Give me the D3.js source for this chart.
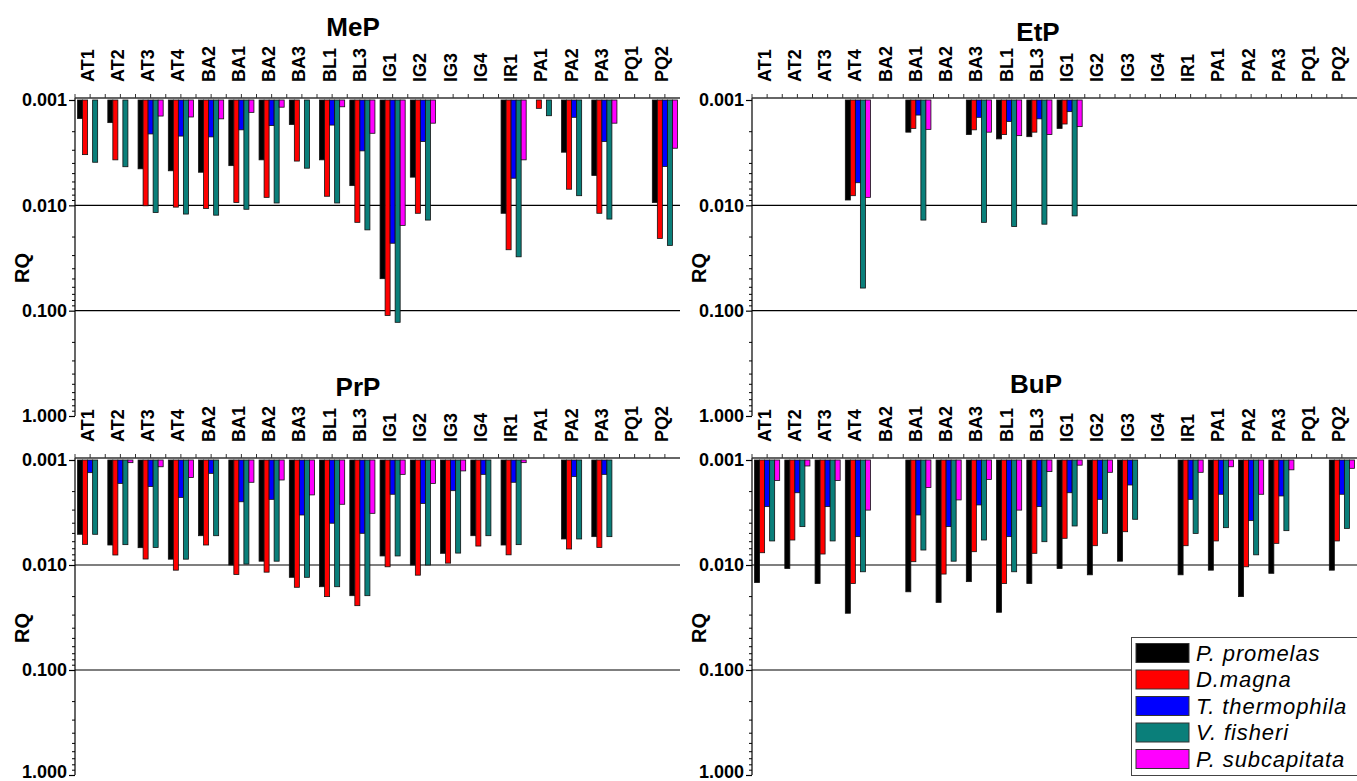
<!DOCTYPE html>
<html>
<head>
<meta charset="utf-8">
<script src="https://cdn.jsdelivr.net/npm/d3@7"></script>
<style>
  html, body { margin: 0; padding: 0; background: #fff; }
  svg { display: block; }
  text { font-family: Arial, "Liberation Sans", sans-serif; fill: #000; }
</style>
</head>
<body>
<svg id="chart" width="1357" height="781"></svg>
<script>
// Sampling sites (x categories), shared by all four panels
const categories = ["AT1","AT2","AT3","AT4","BA2","BA1","BA2","BA3","BL1","BL3",
                    "IG1","IG2","IG3","IG4","IR1","PA1","PA2","PA3","PQ1","PQ2"];

// Test organisms (bar series) and their fills
const species = ["P. promelas", "D.magna", "T. thermophila", "V. fisheri", "P. subcapitata"];
const speciesColors = ["#000000", "#ff0000", "#0000ff", "#0a7f7a", "#ff00ff"];

// Risk quotient axis ticks
const rqTicks = [0.001, 0.01, 0.1, 1];

// MeP risk quotients
const mepPromelas    = [0.0015, 0.00164, 0.0045, 0.0047, 0.00485, 0.0042, 0.0037, 0.00171, 0.0037, 0.0065, 0.0497, 0.0054, null, null, 0.0119, null, 0.00313, 0.0052, null, 0.0094];
const mepMagna       = [0.0033, 0.0037, 0.0101, 0.0104, 0.0107, 0.0094, 0.0084, 0.0038, 0.0082, 0.0145, 0.111, 0.0119, null, null, 0.0264, 0.0012, 0.00703, 0.0119, null, 0.0206];
const mepThermophila = [null, null, 0.0021, 0.0022, 0.00224, 0.00192, 0.00175, null, 0.00173, 0.00304, 0.0229, 0.00248, null, null, 0.00553, null, 0.00146, 0.00248, null, 0.00428];
const mepFisheri     = [0.0039, 0.0043, 0.0117, 0.0121, 0.0124, 0.0109, 0.0095, 0.00444, 0.0095, 0.0171, 0.129, 0.0138, null, null, 0.0308, 0.00141, 0.0081, 0.0135, null, 0.024];
const mepSubcapitata = [null, null, 0.00142, 0.00145, 0.00151, 0.00131, 0.00117, null, 0.00116, 0.00207, 0.0155, 0.00166, null, null, 0.0037, null, null, 0.00166, null, 0.00287];

// EtP risk quotients
const etpPromelas    = [null, null, null, 0.0089, null, 0.00202, null, 0.00213, 0.00234, 0.00223, 0.00186, null, null, null, null, null, null, null, null, null];
const etpMagna       = [null, null, null, 0.0081, null, 0.00186, null, 0.00192, 0.00213, 0.00202, 0.00169, null, null, null, null, null, null, null, null, null];
const etpThermophila = [null, null, null, 0.0061, null, 0.00139, null, 0.00146, 0.0016, 0.00151, 0.00129, null, null, null, null, null, null, null, null, null];
const etpFisheri     = [null, null, null, 0.061, null, 0.0138, null, 0.0145, 0.0159, 0.0151, 0.0126, null, null, null, null, null, null, null, null, null];
const etpSubcapitata = [null, null, null, 0.0084, null, 0.0019, null, 0.00202, 0.00218, 0.00213, 0.00179, null, null, null, null, null, null, null, null, null];

// PrP risk quotients
const prpPromelas    = [0.0051, 0.00645, 0.00684, 0.0088, 0.00526, 0.010, 0.0092, 0.0131, 0.0161, 0.0196, 0.0082, 0.010, 0.00774, 0.00526, 0.00645, null, 0.00565, 0.00537, null, null];
const prpMagna       = [0.00636, 0.00803, 0.00877, 0.0112, 0.00645, 0.0123, 0.0117, 0.0163, 0.020, 0.0244, 0.0104, 0.0125, 0.0096, 0.0066, 0.008, null, 0.00704, 0.0068, null, null];
const prpThermophila = [0.00132, 0.00167, 0.00179, 0.00227, 0.00134, 0.0025, 0.00237, 0.00334, 0.004, 0.00499, 0.00212, 0.00259, 0.00196, 0.00137, 0.00163, null, 0.00144, 0.00137, null, null];
const prpFisheri     = [0.0051, 0.0064, 0.0068, 0.0088, 0.00526, 0.0098, 0.0092, 0.0131, 0.0161, 0.0196, 0.0082, 0.010, 0.0077, 0.00526, 0.0064, null, 0.00565, 0.00537, null, null];
const prpSubcapitata = [null, 0.00106, 0.00116, 0.00147, null, 0.00163, 0.00155, 0.00215, 0.00264, 0.00322, 0.00137, 0.00167, 0.00127, null, 0.00106, null, null, null, null, null];

// BuP risk quotients
const bupPromelas    = [0.0147, 0.0108, 0.015, 0.0288, null, 0.018, 0.0227, 0.0144, 0.0282, 0.015, 0.0108, 0.0124, 0.0092, null, 0.0124, 0.0112, 0.020, 0.012, null, 0.0112];
const bupMagna       = [0.00764, 0.00578, 0.00786, 0.015, null, 0.0093, 0.0122, 0.00747, 0.015, 0.00774, 0.00557, 0.00655, 0.00482, null, 0.00655, 0.0059, 0.0104, 0.00622, null, 0.0059];
const bupThermophila = [0.00278, 0.00205, 0.00278, 0.00537, null, 0.00334, 0.00431, 0.00268, 0.00537, 0.00278, 0.00205, 0.00237, 0.00173, null, 0.00237, 0.00212, 0.00378, 0.0022, null, 0.00212];
const bupFisheri     = [0.0059, 0.00431, 0.0059, 0.0116, null, 0.0072, 0.0092, 0.00578, 0.0116, 0.006, 0.00425, 0.00499, 0.00367, null, 0.005, 0.00441, 0.008, 0.00471, null, 0.00448];
const bupSubcapitata = [0.00157, 0.00114, 0.00157, 0.003, null, 0.00183, 0.0024, 0.00153, 0.003, 0.00129, 0.00112, 0.00131, null, null, 0.00131, 0.00116, 0.00212, 0.00124, null, 0.0012];

// Panel layout: plot area edges and title placement
const panels = [
  { title: "MeP", series: [mepPromelas, mepMagna, mepThermophila, mepFisheri, mepSubcapitata],
    left: 75,  right: 680,  top: 100, bottom: 416, titleX: 353,  titleY: 36 },
  { title: "EtP", series: [etpPromelas, etpMagna, etpThermophila, etpFisheri, etpSubcapitata],
    left: 752, right: 1357, top: 100, bottom: 416, titleX: 1038, titleY: 41 },
  { title: "PrP", series: [prpPromelas, prpMagna, prpThermophila, prpFisheri, prpSubcapitata],
    left: 75,  right: 680,  top: 460, bottom: 775, titleX: 358,  titleY: 396 },
  { title: "BuP", series: [bupPromelas, bupMagna, bupThermophila, bupFisheri, bupSubcapitata],
    left: 752, right: 1357, top: 460, bottom: 775, titleX: 1036, titleY: 393 }
];

const svg = d3.select("#chart");

panels.forEach(p => {
  const g = svg.append("g");

  const x = d3.scaleBand()
    .domain(d3.range(categories.length))
    .range([p.left, p.right])
    .paddingInner(0.17)
    .paddingOuter(0.085);
  const step = x.step();

  const xs = d3.scaleBand()
    .domain(d3.range(species.length))
    .range([0, x.bandwidth()]);

  // reversed log axis: 0.001 at the top, 1 at the bottom
  const y = d3.scaleLog().domain([0.001, 1]).range([p.top, p.bottom]);

  // horizontal reference lines at 0.01 and 0.1
  g.selectAll("line.grid")
    .data([0.01, 0.1])
    .join("line")
    .attr("x1", p.left).attr("x2", p.right)
    .attr("y1", d => y(d)).attr("y2", d => y(d))
    .attr("stroke", "#000").attr("stroke-width", 1.2);

  // bars hang down from the 0.001 baseline
  p.series.forEach((vals, s) => {
    g.selectAll(null)
      .data(vals.map((v, i) => ({ v, i })).filter(d => d.v != null))
      .join("rect")
      .attr("x", d => x(d.i) + xs(s))
      .attr("y", y(0.001))
      .attr("width", xs.bandwidth())
      .attr("height", d => y(d.v) - y(0.001))
      .attr("fill", speciesColors[s])
      .attr("stroke", "#111")
      .attr("stroke-width", 0.8);
  });

  // left RQ axis with log minor ticks
  const yAxis = d3.axisLeft(y)
    .tickValues(rqTicks)
    .tickFormat(d3.format(".3f"))
    .tickSize(6)
    .tickPadding(2);
  const ag = g.append("g")
    .attr("transform", `translate(${p.left},0)`)
    .call(yAxis);
  ag.select(".domain").attr("stroke", "#000").attr("stroke-width", 1.2)
    .attr("d", `M0,${p.top - 2}V${p.bottom}`);
  ag.selectAll(".tick line").attr("stroke", "#000").attr("stroke-width", 1.2);
  ag.selectAll(".tick text")
    .attr("font-size", 18).attr("font-weight", "bold")
    .attr("font-family", "Arial, 'Liberation Sans', sans-serif")
    .attr("dy", d => d === 1 && p.bottom > 700 ? "0.12em" : "0.32em");

  const minor = [];
  [0.001, 0.01, 0.1].forEach(d => { for (let k = 2; k <= 9; k++) minor.push(d * k); });
  ag.selectAll("line.minor")
    .data(minor)
    .join("line")
    .attr("x1", -3).attr("x2", 0)
    .attr("y1", d => y(d)).attr("y2", d => y(d))
    .attr("stroke", "#000").attr("stroke-width", 1);

  // category axis along the top edge
  const axisY = p.top - 2;
  g.append("line")
    .attr("x1", p.left).attr("x2", p.right)
    .attr("y1", axisY).attr("y2", axisY)
    .attr("stroke", "#333").attr("stroke-width", 1.4);

  const tickPos = [];
  categories.forEach((c, i) => {
    tickPos.push(p.left + step * i);
    tickPos.push(p.left + step * (i + 0.5));
  });
  g.selectAll("line.xtick")
    .data(tickPos)
    .join("line")
    .attr("x1", d => d).attr("x2", d => d)
    .attr("y1", axisY).attr("y2", axisY - 4)
    .attr("stroke", "#333").attr("stroke-width", 1);

  g.selectAll("text.cat")
    .data(categories)
    .join("text")
    .attr("transform", (d, i) => `translate(${p.left + step * (i + 0.5)},${p.top - 18}) rotate(-90)`)
    .attr("dy", "0.2em")
    .attr("text-anchor", "start")
    .attr("font-size", 18)
    .attr("font-weight", "bold")
    .text(d => d);

  // panel title
  g.append("text")
    .attr("x", p.titleX).attr("y", p.titleY)
    .attr("text-anchor", "middle")
    .attr("font-size", 26).attr("font-weight", "bold")
    .text(p.title);

  // y axis title
  g.append("text")
    .attr("transform", `translate(${p.left - 53},${p.top + 168}) rotate(-90)`)
    .attr("dy", "0.36em")
    .attr("text-anchor", "middle")
    .attr("font-size", 20).attr("font-weight", "bold")
    .text("RQ");
});

// species legend in the lower-right panel
const legend = svg.append("g");
legend.append("rect")
  .attr("x", 1131.5).attr("y", 637.5)
  .attr("width", 230).attr("height", 138)
  .attr("fill", "#fff").attr("stroke", "#444").attr("stroke-width", 1);

const rowY = d3.scalePoint().domain(d3.range(species.length)).range([653, 759]);
species.forEach((name, s) => {
  legend.append("rect")
    .attr("x", 1136).attr("y", rowY(s) - 9.5)
    .attr("width", 53).attr("height", 19)
    .attr("fill", speciesColors[s])
    .attr("stroke", "#333").attr("stroke-width", 1);
  legend.append("text")
    .attr("x", 1196).attr("y", rowY(s))
    .attr("dy", "0.36em")
    .attr("font-size", 22)
    .attr("letter-spacing", 0.9)
    .attr("font-style", "italic")
    .text(name);
});
</script>
</body>
</html>
